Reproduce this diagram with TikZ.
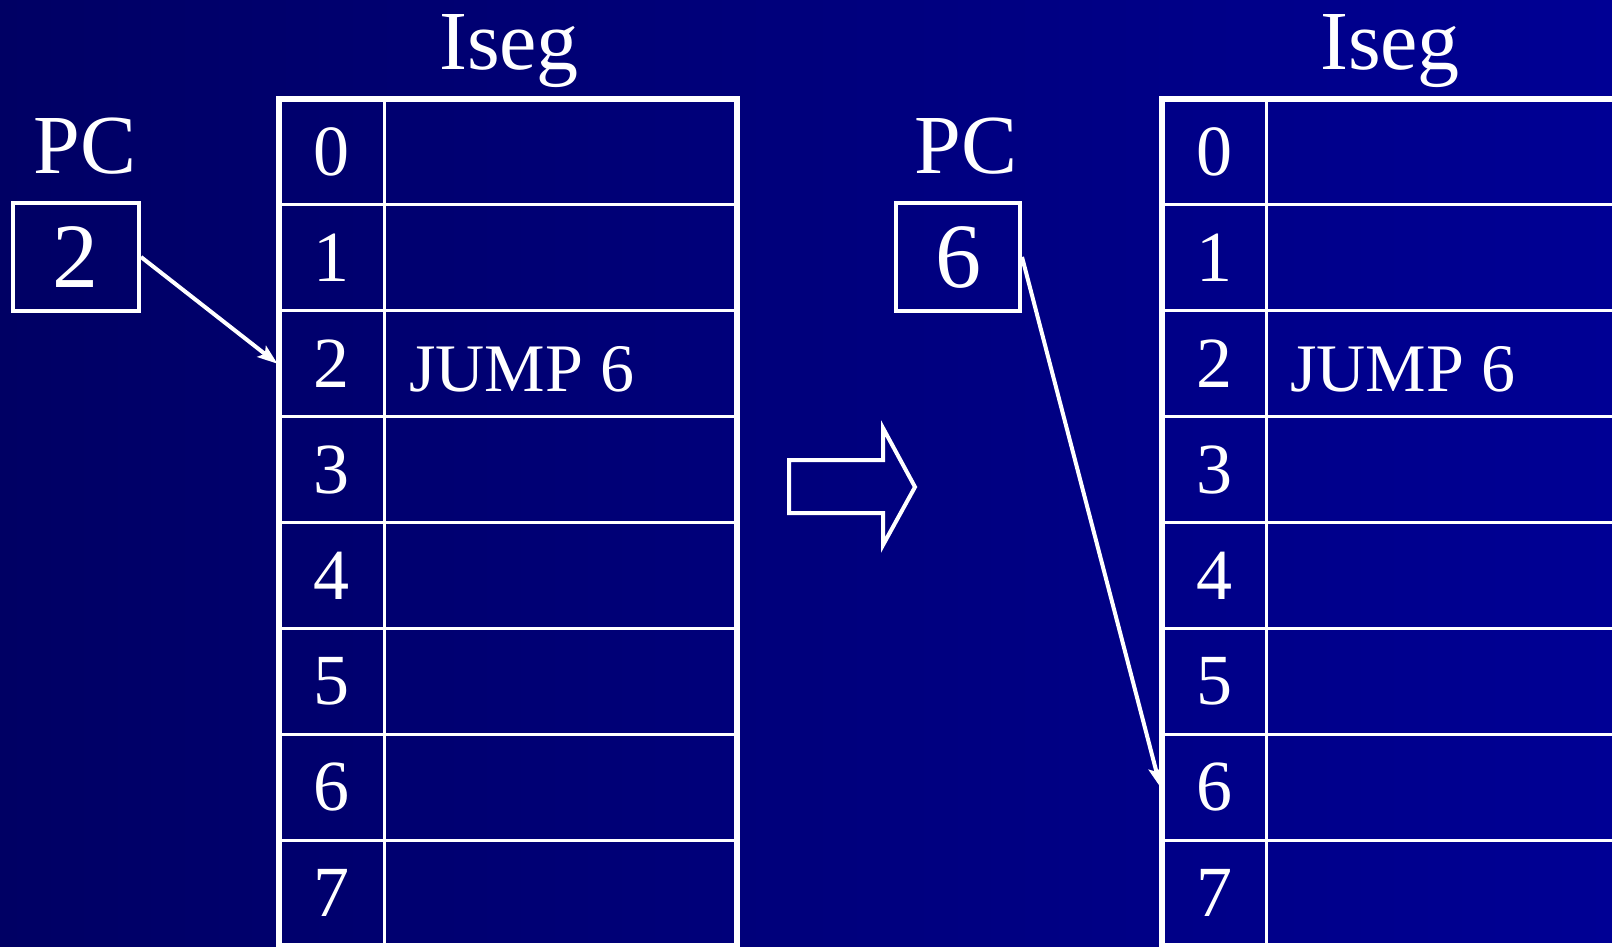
\documentclass[tikz,border=0pt]{standalone}
\usepackage{fontspec}
\setmainfont{Liberation Serif}
\usetikzlibrary{arrows.meta}
\definecolor{bgL}{RGB}{0,0,100}
\definecolor{bgR}{RGB}{0,0,148}
\begin{document}
\begin{tikzpicture}[x=0.5pt,y=-0.5pt,
  every node/.style={text=white, inner sep=0pt},
  idx/.style={draw=white, line width=1.5pt, minimum height=52.95pt, font=\fontsize{36}{40}\selectfont},
  content/.style={draw=white, line width=1.5pt, minimum height=52.95pt},
  jump/.style={font=\fontsize{34}{38}\selectfont},
  big/.style={font=\fontsize{42}{46}\selectfont},
  pcbox/.style={draw=white, line width=2pt, minimum width=63pt, minimum height=54pt, font=\fontsize{46}{50}\selectfont},
  conn/.style={draw=white, line width=2pt, -{Stealth[length=10pt,width=7pt,inset=2pt]}},
  outer/.style={draw=white, line width=3pt}
]
\clip (0,0) rectangle (1612,947);
\shade[left color=bgL, right color=bgR] (0,0) rectangle (1612,947);

% left table
\foreach \i in {0,...,7}{
  \node[idx, minimum width=52.5pt] (L\i) at (331.5, {99+105.9*(\i+0.5)}) {\i};
  \node[content, minimum width=176.5pt] (LC\i) at (560.5, {99+105.9*(\i+0.5)}) {};
}
\draw[outer] (279,99) rectangle (737,946);
\node[big, anchor=base] (iseg1) at (509,70) {Iseg};
\node[jump, anchor=base west] (j1) at (409,391) {JUMP 6};

% right table
\foreach \i in {0,...,7}{
  \node[idx, minimum width=52pt] (R\i) at (1214, {99+105.9*(\i+0.5)}) {\i};
  \node[content, minimum width=197pt] (RC\i) at (1463, {99+105.9*(\i+0.5)}) {};
}
\draw[outer] (1162,99) rectangle (1680,946);
\node[big, anchor=base] (iseg2) at (1390,70) {Iseg};
\node[jump, anchor=base west] (j2) at (1290,391) {JUMP 6};

% PC registers
\node[big, anchor=base] (pclab1) at (85,173) {PC};
\node[pcbox] (pc1) at (76,257) {2};
\node[big, anchor=base] (pclab2) at (966,173) {PC};
\node[pcbox, minimum width=62pt] (pc2) at (958,257) {6};

\draw[conn] (pc1.east) -- (L2.west);
\draw[conn] (pc2.east) -- (R6.west);

% block arrow
\draw[white, line width=2pt, line join=miter]
  (789,460) -- (883,460) -- (883,428) -- (915,487) -- (883,545) -- (883,513) -- (789,513) -- cycle;
\end{tikzpicture}
\end{document}
